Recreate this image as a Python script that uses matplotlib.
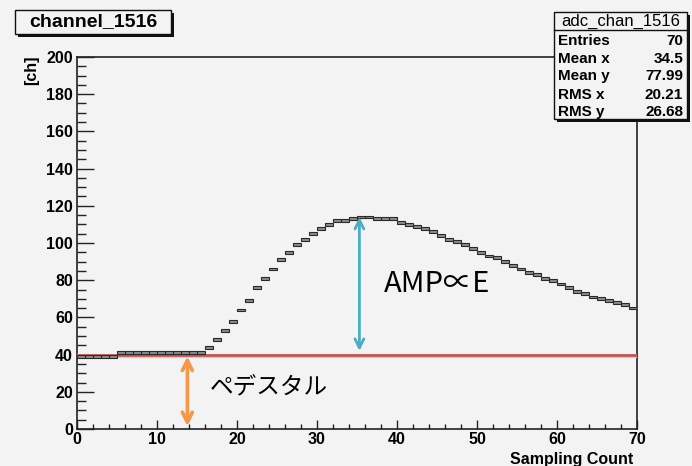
import numpy as np
import matplotlib.pyplot as plt
from matplotlib.patches import Rectangle

# waveform of adc channel 1516, one value per sampling bin (0..69)
samples = np.arange(70)
adc = [39, 39, 39, 39, 39,
       41, 41, 41, 41, 41, 41, 41, 41, 41, 41,
       41, 44, 48, 53, 58, 64, 69, 76, 81, 86,
       91, 95, 99, 102, 105, 108, 110, 112, 112, 113,
       114, 114, 113, 113, 113, 111, 110, 109, 108, 106,
       104, 102, 101, 99, 97, 95, 93, 92, 90, 88,
       86, 84, 83, 81, 80, 78, 76, 74, 73, 71,
       70, 69, 68, 67, 65]
pedestal = 40
amp_x = 35.3
amp_top = 114
ped_x = 13.8

stat_names = ['Entries', 'Mean x', 'Mean y', 'RMS x', 'RMS y']
stat_vals = ['70', '34.5', '77.99', '20.21', '26.68']

W, H = 692, 466
bg = '#f3f3f3'
fig = plt.figure(figsize=(W / 100, H / 100), dpi=100, facecolor=bg)
ax = fig.add_axes([77 / W, 1 - 429 / H, 560 / W, 372 / H])
ax.set_facecolor(bg)

def fx(x):
    return x / W

def fy(y):
    return 1 - y / H

# pedestal line
ax.axhline(pedestal - 0.7, color='#e6bcba', lw=3, zorder=3)
ax.axhline(pedestal, color='#c0504d', lw=1.8, zorder=4)

# histogram contents drawn as small boxes
adc = np.array(adc, dtype=float)
ax.bar(samples + 0.5, 1.5, bottom=adc - 0.75, width=1.0,
       color='#8c8c8c', edgecolor='#2a2a2a', linewidth=0.8, zorder=5)

ax.set_xlim(0, 70)
ax.set_ylim(0, 200)
ax.set_xticks(np.arange(0, 71, 10))
ax.set_xticks(np.arange(0, 71, 2), minor=True)
ax.set_yticks(np.arange(0, 201, 20))
ax.set_yticks(np.arange(0, 201, 5), minor=True)
ax.tick_params(axis='both', which='both', direction='in', colors='#222222',
               width=1.0, top=False, right=False)
ax.tick_params(axis='y', which='major', length=12, pad=3)
ax.tick_params(axis='y', which='minor', length=6.5)
ax.tick_params(axis='x', which='major', length=6.5, pad=2)
ax.tick_params(axis='x', which='minor', length=3.6)
for lab in ax.get_xticklabels() + ax.get_yticklabels():
    lab.set_fontfamily('Liberation Sans')
    lab.set_fontweight('bold')
    lab.set_fontsize(11.5)
    lab.set_color('black')
for sp in ax.spines.values():
    sp.set_color('#222222')
    sp.set_linewidth(1.2)

# arrows
ax.annotate('', xy=(ped_x, pedestal - 1), xytext=(ped_x, 1.5),
            arrowprops=dict(arrowstyle='<->', color='#f79646', lw=2.6,
                            mutation_scale=18, shrinkA=0, shrinkB=0), zorder=6)
ax.annotate('', xy=(amp_x, amp_top), xytext=(amp_x, pedestal + 2),
            arrowprops=dict(arrowstyle='<->', color='#4bacc6', lw=2.0,
                            mutation_scale=16, shrinkA=0, shrinkB=0), zorder=6)

jp = ['Noto Sans CJK JP', 'DejaVu Sans']
ax.text(38.3, 78, 'AMP∝E', family=jp, fontsize=21, color='black',
        ha='left', va='center', zorder=7)
ax.text(16.6, 22, 'ペデスタル', family=jp, fontsize=17, color='black',
        ha='left', va='center', zorder=7)

# axis titles
fig.text(fx(633), fy(452), 'Sampling Count', family='Liberation Sans',
         fontweight='bold', fontsize=11.5, ha='right', va='top')
fig.text(fx(32), fy(70), '[ch]', family='Liberation Sans', fontweight='bold',
         fontsize=11.5, rotation=90, ha='center', va='center')

# boxes with a drop shadow, like ROOT's TPaveText
def box(x0, y0, x1, y1):
    fig.patches.append(Rectangle((fx(x0 + 3), fy(y1 + 3)), fx(x1 - x0), (y1 - y0) / H,
                                 transform=fig.transFigure, facecolor='#111111',
                                 edgecolor='none', zorder=8))
    fig.patches.append(Rectangle((fx(x0), fy(y1)), fx(x1 - x0), (y1 - y0) / H,
                                 transform=fig.transFigure, facecolor=bg,
                                 edgecolor='#111111', lw=1.0, zorder=9))

box(15, 10, 171, 34)
fig.text(fx(93), fy(22), 'channel_1516', family='Liberation Sans',
         fontweight='bold', fontsize=14, ha='center', va='center', zorder=10)

# stats box
box(554, 12, 687, 119)
fig.lines.append(plt.Line2D([fx(554), fx(687)], [fy(30), fy(30)],
                            transform=fig.transFigure, color='#111111', lw=1.0, zorder=10))
fig.text(fx(621), fy(21), 'adc_chan_1516', family='Liberation Sans',
         fontsize=12, ha='center', va='center', zorder=10)
rows_y = [41, 59, 76, 95, 112]
for name, val, yy in zip(stat_names, stat_vals, rows_y):
    fig.text(fx(558), fy(yy), name, family='Liberation Sans', fontweight='bold',
             fontsize=11, ha='left', va='center', zorder=10)
    fig.text(fx(683), fy(yy), val, family='Liberation Sans', fontweight='bold',
             fontsize=11, ha='right', va='center', zorder=10)

fig.savefig('out.png', dpi=100, facecolor=bg)
